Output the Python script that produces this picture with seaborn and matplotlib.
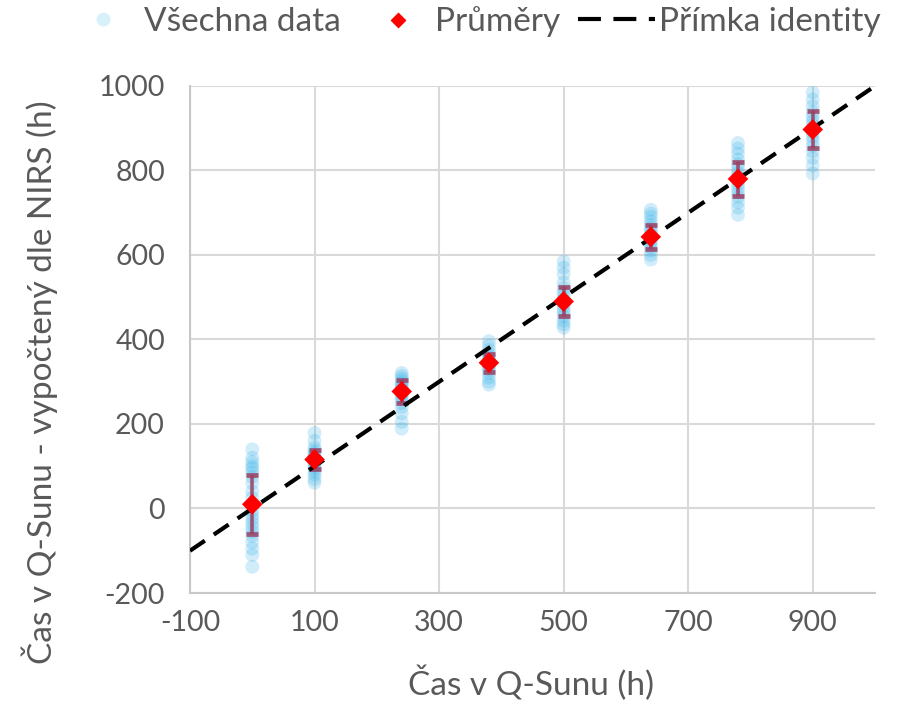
import numpy as np
import pandas as pd
import matplotlib
matplotlib.use("Agg")
import matplotlib.pyplot as plt
import seaborn as sns
from matplotlib.lines import Line2D

# ---- data ----
x_levels = [0, 100, 240, 380, 500, 640, 780, 900]
pts_0 = [140, 120, 110, 100, 95, 85, 75, 60, 40, 25, 10, -5, -15, -25, -35, -45, -55, -65, -80, -95, -110, -138]
pts_100 = [179, 160, 145, 138, 132, 127, 122, 118, 114, 110, 106, 101, 95, 88, 80, 70, 61]
pts_240 = [321, 314, 308, 302, 297, 292, 287, 282, 277, 271, 265, 258, 250, 240, 225, 205, 189]
pts_380 = [396, 385, 375, 366, 360, 354, 349, 344, 339, 334, 328, 320, 310, 300, 293]
pts_500 = [585, 570, 555, 535, 522, 512, 503, 495, 488, 480, 472, 464, 455, 445, 436, 428]
pts_640 = [707, 698, 690, 680, 671, 663, 655, 648, 641, 634, 627, 619, 610, 600, 589]
pts_780 = [865, 852, 840, 826, 815, 805, 795, 786, 777, 768, 758, 748, 738, 725, 712, 695]
pts_900 = [985, 968, 952, 938, 927, 917, 908, 899, 890, 880, 870, 858, 845, 830, 812, 793]
means = [10, 116, 277, 345, 490, 643, 780, 897]
errs = [70, 22, 28, 21, 35, 28, 40, 44]
identity = [-100, 1000]
x_ticks = [-100, 100, 300, 500, 700, 900]
y_ticks = [-200, 0, 200, 400, 600, 800, 1000]

groups = [pts_0, pts_100, pts_240, pts_380, pts_500, pts_640, pts_780, pts_900]
all_df = pd.DataFrame({
    "x": np.concatenate([[xv] * len(g) for xv, g in zip(x_levels, groups)]),
    "y": np.concatenate(groups),
})
mean_df = pd.DataFrame({"x": x_levels, "y": means, "e": errs})
id_df = pd.DataFrame({"x": identity, "y": identity})

sns.set_theme(style="white")
FONT = ["Lato", "DejaVu Sans"]
plt.rcParams["font.family"] = FONT
plt.rcParams["axes.unicode_minus"] = False
GRAY = "#595959"
BLUE = "#3DB5EA"

fig = plt.figure(figsize=(9, 7.02), dpi=100)
ax = fig.add_axes([190 / 900, 1 - 593 / 702, 685 / 900, 507 / 702])

# all data
sns.scatterplot(data=all_df, x="x", y="y", ax=ax, s=100, color=BLUE,
                alpha=0.24, edgecolor="none", zorder=3, legend=False)
# error bars
ax.errorbar(mean_df["x"], mean_df["y"], yerr=mean_df["e"], fmt="none",
            ecolor="#9A3F62", elinewidth=2.6, capsize=4.6, capthick=3.4,
            alpha=0.85, zorder=4)
# identity line
sns.lineplot(data=id_df, x="x", y="y", ax=ax, color="black", lw=3,
             dashes=False, zorder=5)
ax.lines[-1].set_dashes((4.3, 2.6))
# means
sns.scatterplot(data=mean_df, x="x", y="y", ax=ax, marker="D", s=110,
                color="#FF0000", edgecolor="none", zorder=6, legend=False)

ax.set_xlim(-100, 1000)
ax.set_ylim(-200, 1000)
ax.set_xticks(x_ticks)
ax.set_yticks(y_ticks)
ax.grid(True, color="#D9D9D9", lw=1.5)
ax.set_axisbelow(True)
for s in ["top", "right"]:
    ax.spines[s].set_visible(False)
for s in ["left", "bottom"]:
    ax.spines[s].set_color("#C8C8C8")
    ax.spines[s].set_linewidth(1.5)
ax.tick_params(axis="y", labelsize=20.5, colors=GRAY, length=0, pad=18)
ax.tick_params(axis="x", labelsize=20.5, colors=GRAY, length=0, pad=12)
ax.set_xlabel("Čas v Q-Sunu (h)", fontsize=24, color=GRAY)
ax.set_ylabel("Čas v Q-Sunu - vypočtený dle NIRS (h)", fontsize=24, color=GRAY)
ax.xaxis.label.set_va("center")
ax.yaxis.label.set_va("center")
ax.xaxis.set_label_coords(0.498, -0.178)
ax.yaxis.set_label_coords((40 - 190) / 685, 0.416)

# legend: three separately placed entries
LFS = 24
ly = 1 - 22 / 702
entries = [
    (Line2D([], [], ls="none", marker="o", ms=10, mfc=BLUE, mec="none", alpha=0.2),
     "Všechna data", 86, 1.0, 0.75),
    (Line2D([], [], ls="none", marker="D", ms=8, mfc="#FF0000", mec="none"),
     "Průměry", 381, 1.0, 0.62),
    (Line2D([], [], color="black", lw=3, dashes=(5.5, 3)),
     "Přímka identity", 578, 2.3, 0.12),
]
for h, lab, x0, hl, tp in entries:
    fig.legend([h], [lab], loc="center left", bbox_to_anchor=(x0 / 900, ly),
               frameon=False, fontsize=LFS, handlelength=hl, handletextpad=tp,
               borderpad=0, borderaxespad=0, labelcolor=GRAY)

fig.savefig("out.png", dpi=100)
